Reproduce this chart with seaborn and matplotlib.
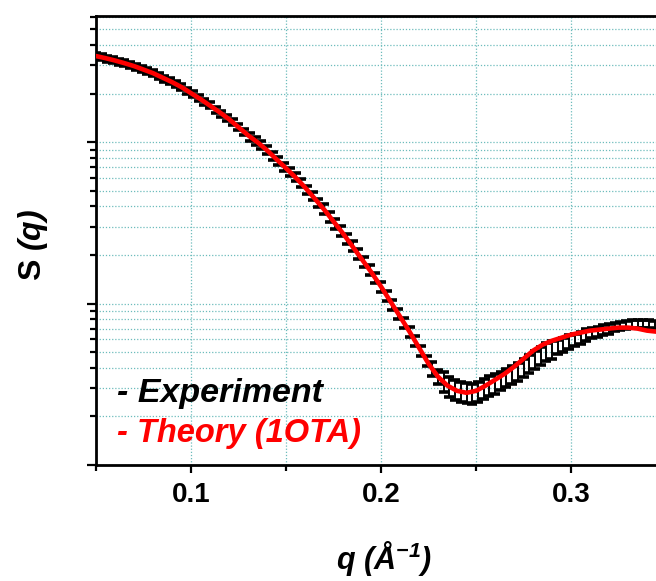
import matplotlib
matplotlib.use("Agg")
import matplotlib.pyplot as plt
import matplotlib.ticker as mticker
import seaborn as sns
import numpy as np

# theory curve (red), S(q)
q_theory = np.round(np.linspace(0.050, 0.345, 60), 3)
s_theory = [3.42, 3.32, 3.21, 3.09, 2.965, 2.82, 2.68, 2.515, 2.36, 2.196,
            2.015, 1.85, 1.686, 1.536, 1.39, 1.239, 1.105, 1.000, 0.892, 0.784,
            0.690, 0.606, 0.525, 0.449, 0.3836, 0.323, 0.272, 0.226, 0.1876, 0.1558,
            0.1275, 0.1029, 0.0831, 0.0670, 0.0533, 0.0424, 0.0352, 0.0310, 0.0288, 0.0280,
            0.0288, 0.0310, 0.0337, 0.0367, 0.0406, 0.0455, 0.0511, 0.0556, 0.0589, 0.0615,
            0.0642, 0.0661, 0.0680, 0.0690, 0.0700, 0.0710, 0.0710, 0.0700, 0.0680, 0.0670]

# experiment (black error bars)
q_exp = np.round(np.linspace(0.050, 0.344, 99), 3)
s_exp = [3.42, 3.36, 3.30, 3.23, 3.16, 3.09, 3.02, 2.94, 2.85, 2.76,
         2.68, 2.58, 2.48, 2.39, 2.29, 2.20, 2.09, 1.98, 1.88, 1.78,
         1.69, 1.59, 1.505, 1.418, 1.327, 1.239, 1.157, 1.083, 1.020, 0.955,
         0.892, 0.826, 0.764, 0.707, 0.655, 0.606, 0.556, 0.509, 0.463, 0.421,
         0.384, 0.346, 0.312, 0.2816, 0.2527, 0.226, 0.2021, 0.1808, 0.1617, 0.1438,
         0.1275, 0.1121, 0.0986, 0.0867, 0.0762, 0.0670, 0.0584, 0.0509, 0.0444, 0.0394,
         0.0352, 0.0326, 0.0305, 0.0292, 0.0285, 0.0280, 0.0276, 0.0284, 0.0296, 0.0307,
         0.0318, 0.0331, 0.0344, 0.0360, 0.0379, 0.0400, 0.0423, 0.0450, 0.0474, 0.0500,
         0.0518, 0.0539, 0.0553, 0.0576, 0.0596, 0.0615, 0.0635, 0.0653, 0.0668, 0.0684,
         0.0700, 0.0716, 0.0730, 0.0741, 0.0749, 0.0751, 0.0749, 0.0747, 0.0741]
# relative error of each experimental point
err_exp = [0.044, 0.044, 0.044, 0.044, 0.044, 0.044, 0.044, 0.044, 0.044, 0.044,
           0.044, 0.044, 0.044, 0.044, 0.044, 0.044, 0.044, 0.044, 0.044, 0.044,
           0.044, 0.044, 0.044, 0.044, 0.044, 0.044, 0.044, 0.059, 0.059, 0.059,
           0.059, 0.059, 0.059, 0.059, 0.059, 0.059, 0.059, 0.059, 0.059, 0.059,
           0.074, 0.074, 0.074, 0.074, 0.074, 0.074, 0.074, 0.074, 0.074, 0.074,
           0.074, 0.074, 0.074, 0.074, 0.074, 0.074, 0.074, 0.074, 0.074, 0.105,
           0.105, 0.154, 0.154, 0.154, 0.154, 0.154, 0.154, 0.154, 0.154, 0.154,
           0.154, 0.137, 0.137, 0.137, 0.137, 0.137, 0.137, 0.137, 0.137, 0.137,
           0.137, 0.105, 0.105, 0.105, 0.090, 0.090, 0.090, 0.074, 0.074, 0.074,
           0.074, 0.059, 0.059, 0.059, 0.059, 0.059, 0.059, 0.059, 0.059]

x_major = [0.1, 0.2, 0.3]
x_minor = [0.05, 0.15, 0.25]

sns.set_style("ticks")
plt.rcParams['font.family'] = ['Liberation Sans', 'DejaVu Sans']
plt.rcParams['mathtext.fontset'] = 'custom'
plt.rcParams['mathtext.rm'] = 'Liberation Sans:italic:bold'
plt.rcParams['mathtext.it'] = 'Liberation Sans:italic:bold'
plt.rcParams['mathtext.bf'] = 'Liberation Sans:italic:bold'

fig = plt.figure(figsize=(6.56, 5.81), dpi=100)
ax = fig.add_axes([0.1463, 0.1997, 0.8537, 0.7728])

s_exp = np.array(s_exp)
err = np.array(err_exp)
ax.errorbar(q_exp, s_exp, yerr=[s_exp - s_exp / (1 + err), s_exp * err],
            fmt='none', ecolor='black', elinewidth=1.4, capsize=3.3,
            capthick=2.6, zorder=2)
sns.lineplot(x=q_theory, y=s_theory, color='red', linewidth=3.3, ax=ax, zorder=3)

ax.set_yscale('log')
ax.set_xlim(0.05, 0.3447)
ax.set_ylim(0.01, 6.06)

ax.xaxis.set_major_locator(mticker.FixedLocator(x_major))
ax.xaxis.set_minor_locator(mticker.FixedLocator(x_minor))
ax.xaxis.set_major_formatter(mticker.FormatStrFormatter('%.1f'))
ax.yaxis.set_major_locator(mticker.LogLocator(base=10))
ax.yaxis.set_minor_locator(mticker.LogLocator(base=10, subs=np.arange(2, 10)))
ax.yaxis.set_major_formatter(mticker.NullFormatter())
ax.yaxis.set_minor_formatter(mticker.NullFormatter())

grid_kw = dict(color='#6dbcbc', linestyle=(0, (1, 1.5)), linewidth=0.9)
ax.grid(True, which='major', **grid_kw)
ax.grid(True, which='minor', **grid_kw)
ax.set_axisbelow(True)

ax.tick_params(axis='both', which='major', direction='out', width=1.6,
               length=5.5, labelsize=20, pad=7, colors='black')
ax.tick_params(axis='y', which='major', length=6.5)
ax.tick_params(axis='both', which='minor', direction='out', width=1.6,
               length=4, colors='black')
for lab in ax.get_xticklabels():
    lab.set_fontweight('bold')

for side in ['left', 'bottom', 'top']:
    ax.spines[side].set_linewidth(2.0)
    ax.spines[side].set_color('black')
ax.spines['right'].set_visible(False)

ax.set_ylabel('S $(q)$', fontsize=23, fontweight='bold', color='black')
ax.yaxis.set_label_coords(-0.082, 0.49)
ax.set_xlabel('q (Å$^{-1}$)', fontsize=22, fontweight='bold', style='italic',
              color='black')
ax.xaxis.set_label_coords(0.514, -0.165)

ax.text(0.0375, 0.140, '- Experiment', transform=ax.transAxes, fontsize=24.5,
        fontweight='bold', style='italic', color='black', va='baseline')
ax.text(0.0375, 0.051, '- Theory (1OTA)', transform=ax.transAxes, fontsize=23.5,
        fontweight='bold', style='italic', color='red', va='baseline')

fig.savefig('out.png', dpi=100)
